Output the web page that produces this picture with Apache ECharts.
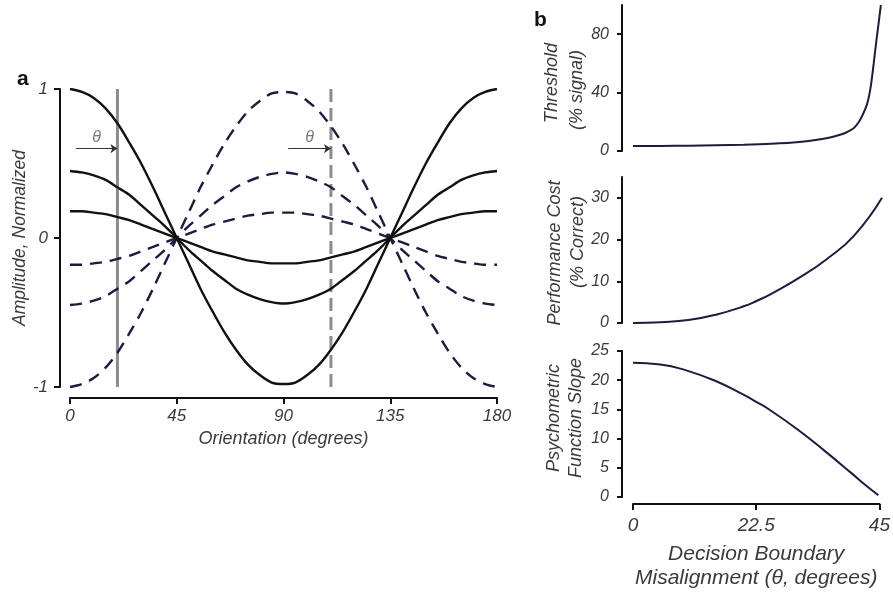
<!DOCTYPE html>
<html>
<head>
<meta charset="utf-8">
<script src="https://cdn.jsdelivr.net/npm/echarts@6/dist/echarts.min.js"></script>
<style>
html,body{margin:0;padding:0;background:#fff;}
#chart{width:893px;height:592px;}
</style>
</head>
<body>
<div id="chart"></div>
<script>
// ---------- Panel a data ----------
const orientation = [0,5,10,15,20,25,30,35,40,45,50,55,60,65,70,75,80,85,90,95,100,105,110,115,120,125,130,135,140,145,150,155,160,165,170,175,180];
const solidHigh  = [1,0.98,0.94,0.87,0.77,0.64,0.5,0.34,0.17,0,-0.17,-0.34,-0.49,-0.63,-0.75,-0.85,-0.92,-0.97,-0.98,-0.97,-0.92,-0.85,-0.75,-0.63,-0.49,-0.34,-0.17,0,0.17,0.34,0.5,0.64,0.77,0.87,0.94,0.98,1];
const solidMid   = [0.45,0.44,0.42,0.39,0.34,0.29,0.22,0.15,0.08,0,-0.08,-0.15,-0.22,-0.28,-0.34,-0.38,-0.41,-0.43,-0.44,-0.43,-0.41,-0.38,-0.34,-0.28,-0.22,-0.15,-0.08,0,0.08,0.15,0.22,0.29,0.34,0.39,0.42,0.44,0.45];
const solidLow   = [0.18,0.18,0.17,0.16,0.14,0.12,0.09,0.06,0.03,0,-0.03,-0.06,-0.09,-0.11,-0.13,-0.15,-0.16,-0.17,-0.17,-0.17,-0.16,-0.15,-0.13,-0.11,-0.09,-0.06,-0.03,0,0.03,0.06,0.09,0.12,0.14,0.16,0.17,0.18,0.18];
const dashedHigh = [-1,-0.98,-0.94,-0.87,-0.77,-0.64,-0.5,-0.34,-0.17,0,0.17,0.34,0.49,0.63,0.75,0.85,0.92,0.97,0.98,0.97,0.92,0.85,0.75,0.63,0.49,0.34,0.17,0,-0.17,-0.34,-0.5,-0.64,-0.77,-0.87,-0.94,-0.98,-1];
const dashedMid  = [-0.45,-0.44,-0.42,-0.39,-0.34,-0.29,-0.22,-0.15,-0.08,0,0.08,0.15,0.22,0.28,0.34,0.38,0.41,0.43,0.44,0.43,0.41,0.38,0.34,0.28,0.22,0.15,0.08,0,-0.08,-0.15,-0.22,-0.29,-0.34,-0.39,-0.42,-0.44,-0.45];
const dashedLow  = [-0.18,-0.18,-0.17,-0.16,-0.14,-0.12,-0.09,-0.06,-0.03,0,0.03,0.06,0.09,0.11,0.13,0.15,0.16,0.17,0.17,0.17,0.16,0.15,0.13,0.11,0.09,0.06,0.03,0,-0.03,-0.06,-0.09,-0.12,-0.14,-0.16,-0.17,-0.18,-0.18];
const boundarySolid = 20;
const boundaryDashed = 110;
const arrowA = [2.5, 20];
const arrowB = [92, 110];
const arrowLevel = 0.6;
const orientationTicks = [0,45,90,135,180];
const amplitudeTicks = [-1,0,1];

// ---------- Panel b data ----------
const thresholdTheta = [0,5,10,15,20,25,30,33,36,38,39,40,41,42,42.5,43,43.5,44,44.4,44.8];
const thresholdVals  = [3.4,3.5,3.6,3.9,4.3,5.0,6.2,7.6,9.6,11.8,13.6,16,21,29,35,45,60,76,88,100];
const costTheta = [0,5,10,15,20,22.5,25,30,35,40,45];
const costVals  = [0,0.2,0.7,2.0,4.0,5.4,7.0,10.8,15.3,21,30];
const slopeTheta = [0,5,10,15,20,22.5,25,30,35,40,42.5,44,44.8];
const slopeVals  = [23,22.7,21.6,19.9,17.6,16.3,14.9,11.6,7.9,4.0,2.0,0.9,0.3];
const thresholdTicks = [0,40,80];
const costTicks = [0,10,20,30];
const slopeTicks = [0,5,10,15,20,25];
const misalignTicks = [0,22.5,45];

const FONT = 'Liberation Sans';
const TXT = '#3a3a3a';
const NAVY = '#1c1c3e';

function pairs(xs, ys){ return xs.map((x,i)=>[x, ys[i]]); }

const chart = echarts.init(document.getElementById('chart'), null, {renderer:'canvas'});

const axisLineStyle = {color:'#111', width:2};
const italicLabel = (size, margin) => ({
  fontFamily: FONT, fontStyle:'italic', fontSize: size, color: TXT, margin: margin
});

const option = {
  animation:false,
  backgroundColor:'#fff',
  grid:[
    {left:70, top:89, width:427, height:298},
    {left:633, top:5, width:249, height:146},
    {left:633, top:177, width:249, height:146},
    {left:633, top:351, width:249, height:146}
  ],
  xAxis:[
    {gridIndex:0, type:'value', min:0, max:180, interval:45, offset:11,
     axisLine:{onZero:false, lineStyle:axisLineStyle}, axisTick:{length:6, lineStyle:{color:'#111', width:2}},
     axisLabel:Object.assign(italicLabel(17,10), {customValues:orientationTicks}),
     splitLine:{show:false},
     name:'Orientation (degrees)', nameLocation:'middle', nameGap:30,
     nameTextStyle:{fontFamily:FONT, fontStyle:'italic', fontSize:18, color:TXT}},
    {gridIndex:1, type:'value', min:0, max:45, show:false},
    {gridIndex:2, type:'value', min:0, max:45, show:false},
    {gridIndex:3, type:'value', min:0, max:45, offset:7,
     axisLine:{onZero:false, lineStyle:axisLineStyle}, axisTick:{length:6, customValues:misalignTicks, lineStyle:{color:'#111', width:2}},
     axisLabel:Object.assign(italicLabel(19,12), {customValues:misalignTicks}),
     splitLine:{show:false},
     name:'Decision Boundary\nMisalignment (θ, degrees)', nameLocation:'middle', nameGap:38,
     nameTextStyle:{fontFamily:FONT, fontStyle:'italic', fontSize:21, color:TXT, lineHeight:24}}
  ],
  yAxis:[
    {gridIndex:0, type:'value', min:-1, max:1, interval:1, offset:10,
     axisLine:{show:true, onZero:false, lineStyle:axisLineStyle}, axisTick:{show:true, length:6, lineStyle:{color:'#111', width:2}},
     axisLabel:Object.assign(italicLabel(17,12), {customValues:amplitudeTicks}),
     splitLine:{show:false},
     name:'Amplitude, Normalized', nameLocation:'middle', nameGap:31, nameRotate:90,
     nameTextStyle:{fontFamily:FONT, fontStyle:'italic', fontSize:17.5, color:TXT}},
    {gridIndex:1, type:'value', min:0, max:100, offset:11,
     axisLine:{show:true, onZero:false, lineStyle:axisLineStyle},
     axisTick:{show:true, length:5, customValues:thresholdTicks, lineStyle:{color:'#111', width:2}},
     axisLabel:Object.assign(italicLabel(16,13), {customValues:thresholdTicks}),
     splitLine:{show:false}},
    {gridIndex:2, type:'value', min:0, max:35, offset:11,
     axisLine:{show:true, onZero:false, lineStyle:axisLineStyle},
     axisTick:{show:true, length:5, customValues:costTicks, lineStyle:{color:'#111', width:2}},
     axisLabel:Object.assign(italicLabel(16,13), {customValues:costTicks}),
     splitLine:{show:false}},
    {gridIndex:3, type:'value', min:0, max:25, offset:11,
     axisLine:{show:true, onZero:false, lineStyle:axisLineStyle},
     axisTick:{show:true, length:5, customValues:slopeTicks, lineStyle:{color:'#111', width:2}},
     axisLabel:Object.assign(italicLabel(16,13), {customValues:slopeTicks}),
     splitLine:{show:false}}
  ],
  series:[
    // boundaries
    {type:'line', xAxisIndex:0, yAxisIndex:0, data:[[boundarySolid,-1],[boundarySolid,1]],
     symbol:'none', lineStyle:{color:'#8c8c8c', width:3}, z:1},
    {type:'line', xAxisIndex:0, yAxisIndex:0, data:[[boundaryDashed,-1],[boundaryDashed,1]],
     symbol:'none', lineStyle:{color:'#8c8c8c', width:3, type:[13,6]}, z:1},
    // solid curves
    {type:'line', xAxisIndex:0, yAxisIndex:0, data:pairs(orientation, solidHigh), smooth:0.3, symbol:'none', lineStyle:{color:'#111', width:2.4}, z:3},
    {type:'line', xAxisIndex:0, yAxisIndex:0, data:pairs(orientation, solidMid), smooth:0.3, symbol:'none', lineStyle:{color:'#111', width:2.4}, z:3},
    {type:'line', xAxisIndex:0, yAxisIndex:0, data:pairs(orientation, solidLow), smooth:0.3, symbol:'none', lineStyle:{color:'#111', width:2.4}, z:3},
    // dashed curves
    {type:'line', xAxisIndex:0, yAxisIndex:0, data:pairs(orientation, dashedHigh), smooth:0.3, symbol:'none', lineStyle:{color:NAVY, width:2.4, type:[12,8]}, z:2},
    {type:'line', xAxisIndex:0, yAxisIndex:0, data:pairs(orientation, dashedMid), smooth:0.3, symbol:'none', lineStyle:{color:NAVY, width:2.4, type:[12,8]}, z:2},
    {type:'line', xAxisIndex:0, yAxisIndex:0, data:pairs(orientation, dashedLow), smooth:0.3, symbol:'none', lineStyle:{color:NAVY, width:2.4, type:[12,8]}, z:2},
    // arrows
    {type:'lines', coordinateSystem:'cartesian2d', xAxisIndex:0, yAxisIndex:0,
     symbol:['none','arrow'], symbolSize:7,
     lineStyle:{color:'#333', width:1.2, opacity:1},
     data:[
       {coords:[[arrowA[0],arrowLevel],[arrowA[1],arrowLevel]]},
       {coords:[[arrowB[0],arrowLevel],[arrowB[1],arrowLevel]]}
     ], z:4},
    {type:'scatter', xAxisIndex:0, yAxisIndex:0, symbolSize:0,
     data:[[(arrowA[0]+arrowA[1])/2, arrowLevel],[(arrowB[0]+arrowB[1])/2, arrowLevel]],
     label:{show:true, formatter:'θ', position:'top', distance:3,
            fontFamily:FONT, fontStyle:'italic', fontSize:16, color:'#555'}, z:4},
    // panel b
    {type:'line', xAxisIndex:1, yAxisIndex:1, data:pairs(thresholdTheta, thresholdVals), smooth:0.3, symbol:'none', lineStyle:{color:NAVY, width:2}},
    {type:'line', xAxisIndex:2, yAxisIndex:2, data:pairs(costTheta, costVals), smooth:true, symbol:'none', lineStyle:{color:NAVY, width:2}},
    {type:'line', xAxisIndex:3, yAxisIndex:3, data:pairs(slopeTheta, slopeVals), smooth:true, symbol:'none', lineStyle:{color:NAVY, width:2}}
  ],
  graphic:[
    {type:'text', left:17, top:69, style:{text:'a', font:'bold 21px "Liberation Sans"', fill:'#111'}},
    {type:'text', left:534, top:10, style:{text:'b', font:'bold 21px "Liberation Sans"', fill:'#111'}},
    {type:'text', x:552, y:83, rotation:Math.PI/2, style:{text:'Threshold', font:'italic 18px "Liberation Sans"', fill:TXT, align:'center', verticalAlign:'middle'}},
    {type:'text', x:577, y:90, rotation:Math.PI/2, style:{text:'(% signal)', font:'italic 18px "Liberation Sans"', fill:TXT, align:'center', verticalAlign:'middle'}},
    {type:'text', x:555, y:253, rotation:Math.PI/2, style:{text:'Performance Cost', font:'italic 18px "Liberation Sans"', fill:TXT, align:'center', verticalAlign:'middle'}},
    {type:'text', x:578, y:242, rotation:Math.PI/2, style:{text:'(% Correct)', font:'italic 18px "Liberation Sans"', fill:TXT, align:'center', verticalAlign:'middle'}},
    {type:'text', x:554, y:418, rotation:Math.PI/2, style:{text:'Psychometric', font:'italic 18px "Liberation Sans"', fill:TXT, align:'center', verticalAlign:'middle'}},
    {type:'text', x:576, y:418, rotation:Math.PI/2, style:{text:'Function Slope', font:'italic 18px "Liberation Sans"', fill:TXT, align:'center', verticalAlign:'middle'}}
  ]
};
chart.setOption(option);
</script>
</body>
</html>
